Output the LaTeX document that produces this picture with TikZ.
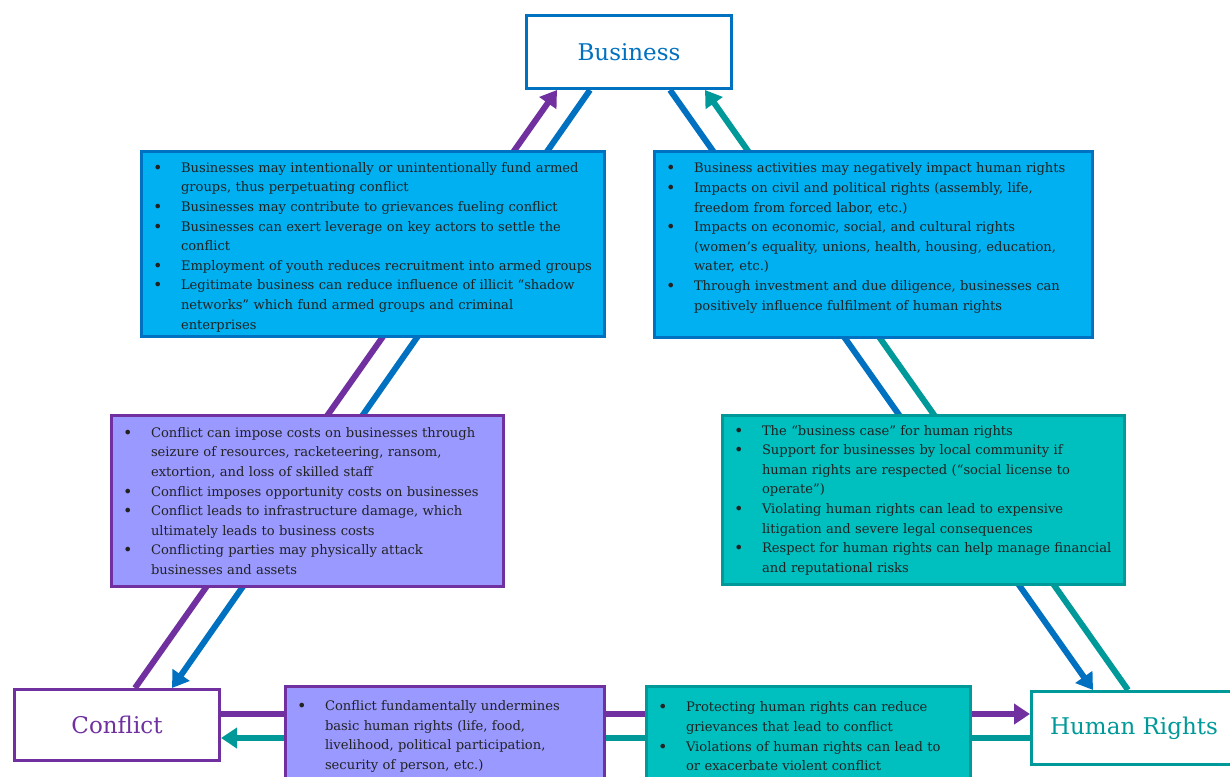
\documentclass[tikz,border=0pt]{standalone}
\usepackage{fontspec}
\setmainfont{DejaVu Serif}
\usetikzlibrary{arrows.meta,backgrounds}

\definecolor{bizblue}{HTML}{0070C0}
\definecolor{bizfill}{HTML}{00B0F0}
\definecolor{conpurple}{HTML}{7030A0}
\definecolor{confill}{HTML}{9999FF}
\definecolor{hrteal}{HTML}{009999}
\definecolor{hrfill}{HTML}{00BFBF}
\definecolor{bodytext}{HTML}{222222}

\newcommand{\bitem}{\makebox[31.5pt][l]{\hspace{3.5pt}\raisebox{-1pt}{\fontsize{16}{16}\selectfont\textbullet}}}
\newcommand{\bcont}{\hspace*{31.5pt}}
% invisible rules that nudge a list up or down in its box
\newcommand{\padtop}[1]{\rule{0pt}{#1}}
\newcommand{\padbot}[1]{\rule[-#1]{0pt}{#1}}

\tikzset{
    mainbox/.style={draw=#1, text=#1, line width=3pt, fill=white, minimum width=205pt,
        minimum height=73pt, inner sep=0pt, font=\fontsize{23}{28}\selectfont},
    infobox/.style={draw, line width=3pt, inner xsep=8pt, inner ysep=6pt,
        align=left, text=bodytext, font=\fontsize{13.1}{19.6}\selectfont},
    link/.style={line width=6pt},
    headed/.style={-{Triangle[length=16pt,width=20pt]}}
}

\begin{document}
\begin{tikzpicture}[x=1pt, y=-1pt]
    \useasboundingbox (0,0) rectangle (1230,776);

    % the three main topics
    \node[mainbox=bizblue, anchor=north west] (business) at (525,14) {Business};
    \node[mainbox=conpurple, anchor=north west, minimum height=71pt] (conflict) at (13,688) {Conflict};
    \node[mainbox=hrteal, anchor=north west] (hr) at (1030,690) {Human Rights};

    % business and conflict
    \node[infobox, draw=bizblue, fill=bizfill, anchor=north west, text width=447pt, inner ysep=0pt, minimum height=185pt] (bizcon) at (140,150) {%
        \bitem Businesses may intentionally or unintentionally fund armed\padtop{16pt}\\
        \bcont groups, thus perpetuating conflict\\
        \bitem Businesses may contribute to grievances fueling conflict\\
        \bitem Businesses can exert leverage on key actors to settle the\\
        \bcont conflict\\
        \bitem Employment of youth reduces recruitment into armed groups\\
        \bitem Legitimate business can reduce influence of illicit “shadow\\
        \bcont networks” which fund armed groups and criminal\\
        \bcont enterprises};
    \node[infobox, draw=conpurple, fill=confill, anchor=north west, text width=376pt, minimum height=171pt] (conbiz) at (110,414) {%
        \bitem Conflict can impose costs on businesses through\\
        \bcont seizure of resources, racketeering, ransom,\\
        \bcont extortion, and loss of skilled staff\\
        \bitem Conflict imposes opportunity costs on businesses\\
        \bitem Conflict leads to infrastructure damage, which\\
        \bcont ultimately leads to business costs\\
        \bitem Conflicting parties may physically attack\\
        \bcont businesses and assets};

    % business and human rights
    \node[infobox, draw=bizblue, fill=bizfill, anchor=north west, text width=422pt, minimum height=186pt] (bizhr) at (653,150) {%
        \bitem Business activities may negatively impact human rights\\
        \bitem Impacts on civil and political rights (assembly, life,\\
        \bcont freedom from forced labor, etc.)\\
        \bitem Impacts on economic, social, and cultural rights\\
        \bcont (women’s equality, unions, health, housing, education,\\
        \bcont water, etc.)\\
        \bitem Through investment and due diligence, businesses can\\
        \bcont positively influence fulfilment of human rights\padbot{16pt}};
    \node[infobox, draw=hrteal, fill=hrfill, anchor=north west, text width=386pt, minimum height=169pt] (hrbiz) at (721,414) {%
        \bitem The “business case” for human rights\\
        \bitem Support for businesses by local community if\\
        \bcont human rights are respected (“social license to\\
        \bcont operate”)\\
        \bitem Violating human rights can lead to expensive\\
        \bcont litigation and severe legal consequences\\
        \bitem Respect for human rights can help manage financial\\
        \bcont and reputational risks};

    % conflict and human rights
    \node[infobox, draw=conpurple, fill=confill, anchor=north west, text width=303pt, minimum height=100pt] (conhr) at (284,685) {%
        \bitem Conflict fundamentally undermines\\
        \bcont basic human rights (life, food,\\
        \bcont livelihood, political participation,\\
        \bcont security of person, etc.)};
    \node[infobox, draw=hrteal, fill=hrfill, anchor=north west, text width=308pt, minimum height=100pt] (hrcon) at (645,685) {%
        \bitem Protecting human rights can reduce\\
        \bcont grievances that lead to conflict\\
        \bitem Violations of human rights can lead to\\
        \bcont or exacerbate violent conflict};

    % the connectors run behind the boxes
    \begin{scope}[on background layer]
        \draw[link, conpurple, headed] ([xshift=122pt]conflict.north west) -- ([xshift=32pt]business.south west);
        \draw[link, bizblue, headed] ([xshift=65pt]business.south west) -- ([xshift=159pt]conflict.north west);
        \draw[link, bizblue, headed] ([xshift=145pt]business.south west) -- ([xshift=63pt]hr.north west);
        \draw[link, hrteal, headed] ([xshift=98pt]hr.north west) -- ([xshift=180pt]business.south west);
        \draw[link, conpurple, headed] ([yshift=-26pt]conflict.north east) -- ([yshift=-24pt]hr.north west);
        \draw[link, hrteal, headed] ([yshift=-48pt]hr.north west) -- ([yshift=-50pt]conflict.north east);
    \end{scope}
\end{tikzpicture}
\end{document}
